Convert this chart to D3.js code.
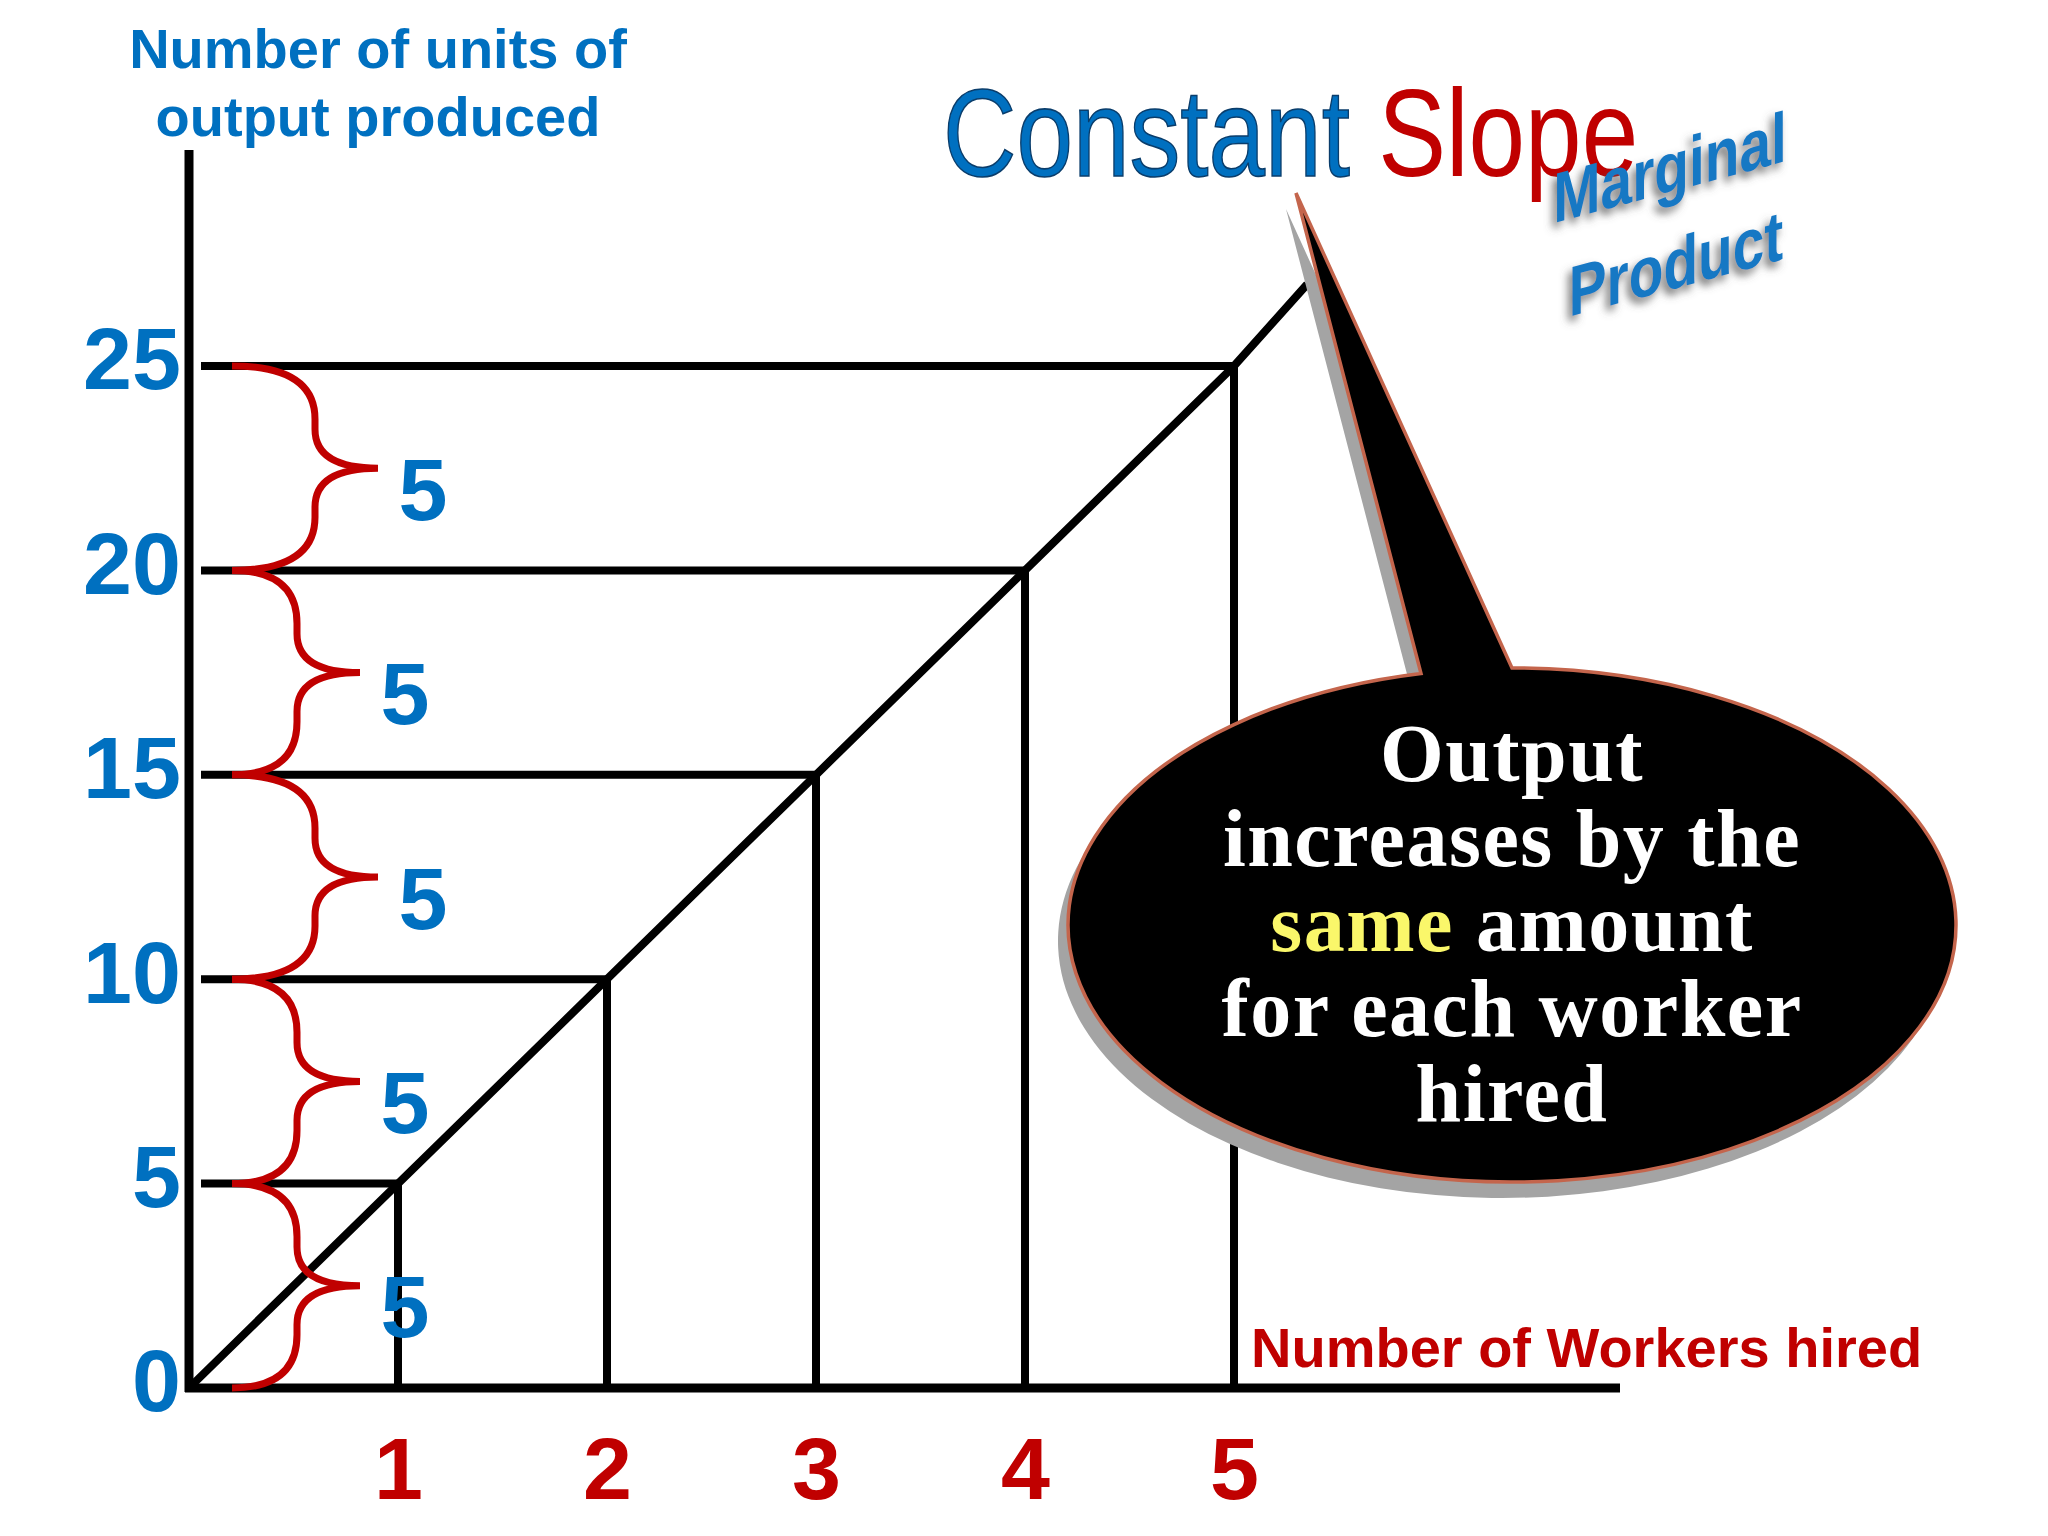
<!DOCTYPE html>
<html><head><meta charset="utf-8">
<script src="https://cdn.jsdelivr.net/npm/d3@7"></script>
<style>body{margin:0;background:#fff} svg{display:block}</style>
</head><body>
<svg id="chart" width="2048" height="1536"></svg>
<script>
// ---- data ----
const workers = [0, 1, 2, 3, 4, 5];
const output = [0, 5, 10, 15, 20, 25];
const xTickLabels = ["0", "1", "2", "3", "4", "5"];
const yTickLabels = ["0", "5", "10", "15", "20", "25"];
const increments = [5, 5, 5, 5, 5];
const lineEnd = [5.35, 27];
const titleParts = [{ text: "Constant ", color: "#0070C0", outline: "#0a3d6b" }, { text: "Slope", color: "#C00000", outline: "none" }];
const yTitleLines = ["Number of units of", "output produced"];
const xTitle = "Number of Workers hired";
const tagLines = ["Marginal", "Product"];
const bubbleLines = [
  [{ t: "Output" }],
  [{ t: "increases by the" }],
  [{ t: "same", hl: true }, { t: " amount" }],
  [{ t: "for each worker" }],
  [{ t: "hired" }]
];

// ---- setup ----
const svg = d3.select("#chart");
const BLUE = "#0070C0", RED = "#C00000";
const x = d3.scaleLinear().domain([0, 5]).range([189, 1234]);
const y = d3.scaleLinear().domain([0, 25]).range([1388, 366]);

const defs = svg.append("defs");
const f = defs.append("filter").attr("id", "tagShadow").attr("x", "-20%").attr("y", "-40%").attr("width", "140%").attr("height", "180%");
f.append("feGaussianBlur").attr("in", "SourceAlpha").attr("stdDeviation", 4).attr("result", "b");
f.append("feOffset").attr("in", "b").attr("dx", -4).attr("dy", 6).attr("result", "o");
f.append("feFlood").attr("flood-color", "#555").attr("flood-opacity", 0.8).attr("result", "c");
f.append("feComposite").attr("in", "c").attr("in2", "o").attr("operator", "in").attr("result", "s");
const fm = f.append("feMerge");
fm.append("feMergeNode").attr("in", "s");
fm.append("feMergeNode").attr("in", "SourceGraphic");

// ---- title ----
const title = svg.append("text")
  .attr("transform", "translate(943,176) scale(0.82,1)")
  .attr("font-family", "'Liberation Sans', Arial, sans-serif")
  .attr("font-size", 124);
titleParts.forEach(p => title.append("tspan").text(p.text).attr("fill", p.color)
  .attr("stroke", p.outline).attr("stroke-width", 1.6));

// ---- y axis title ----
svg.append("g").selectAll("text").data(yTitleLines).join("text")
  .attr("x", 378).attr("y", (d, i) => 68 + i * 68)
  .attr("text-anchor", "middle")
  .attr("font-family", "'Liberation Sans', Arial, sans-serif")
  .attr("font-weight", "bold").attr("font-size", 56).attr("fill", BLUE)
  .text(d => d);

// ---- x axis title ----
svg.append("text").attr("x", 1251).attr("y", 1367)
  .attr("font-family", "'Liberation Sans', Arial, sans-serif")
  .attr("font-weight", "bold").attr("font-size", 56).attr("fill", RED)
  .text(xTitle);

// ---- guides ----
const pts = workers.map((w, i) => [w, output[i]]);
const guides = svg.append("g").attr("stroke", "#000").attr("stroke-width", 8).attr("fill", "none");
guides.selectAll("line.h").data(pts.slice(1)).join("line").attr("class", "h")
  .attr("x1", x(0) + 12).attr("x2", d => x(d[0]) + 3)
  .attr("y1", d => y(d[1])).attr("y2", d => y(d[1]));
guides.selectAll("line.v").data(pts.slice(1)).join("line").attr("class", "v")
  .attr("x1", d => x(d[0])).attr("x2", d => x(d[0]))
  .attr("y1", d => y(d[1])).attr("y2", y(0));
guides.append("path")
  .attr("d", d3.line().x(d => x(d[0])).y(d => y(d[1]))([...pts, lineEnd]));

// ---- axes ----
const axes = svg.append("g").attr("stroke", "#000").attr("stroke-width", 9);
axes.append("line").attr("x1", x(0)).attr("x2", x(0)).attr("y1", 150).attr("y2", y(0) + 4);
axes.append("line").attr("x1", x(0) - 4).attr("x2", 1620).attr("y1", y(0)).attr("y2", y(0));

const yAxis = svg.append("g").attr("transform", `translate(${x(0)},0)`)
  .call(d3.axisLeft(y).tickValues(output).tickSize(0).tickPadding(8).tickFormat((d, i) => yTickLabels[i]));
yAxis.select(".domain").remove();
yAxis.selectAll("text").attr("font-family", "'Liberation Sans', Arial, sans-serif")
  .attr("font-weight", "bold").attr("font-size", 88).attr("fill", BLUE).attr("dy", "0.26em");

const xAxis = svg.append("g").attr("transform", `translate(0,${y(0)})`)
  .call(d3.axisBottom(x).tickValues(workers.slice(1)).tickSize(0).tickPadding(49).tickFormat(d => xTickLabels[d]));
xAxis.select(".domain").remove();
xAxis.selectAll("text").attr("font-family", "'Liberation Sans', Arial, sans-serif")
  .attr("font-weight", "bold").attr("font-size", 88).attr("fill", RED);

// ---- braces ----
const braces = svg.append("g");
increments.forEach((inc, i) => {
  const top = y(output[i + 1]), bot = y(output[i]);
  const h = bot - top, ym = (top + bot) / 2;
  const shift = (i > 0 && i % 2 === 0) ? 18 : 0;
  const x0 = 232, xm = 297 + shift, xt = 360 + shift;
  const yA = top + 0.26 * h, yB = ym - 0.19 * h, yC = ym + 0.19 * h, yD = bot - 0.26 * h;
  braces.append("path")
    .attr("d", `M${x0},${top} Q${xm},${top} ${xm},${yA} L${xm},${yB} Q${xm},${ym} ${xt},${ym} Q${xm},${ym} ${xm},${yC} L${xm},${yD} Q${xm},${bot} ${x0},${bot}`)
    .attr("fill", "none").attr("stroke", RED).attr("stroke-width", 7);
  braces.append("text").attr("x", xt + 45).attr("y", ym + 20).attr("dy", "0.36em")
    .attr("text-anchor", "middle")
    .attr("font-family", "'Liberation Sans', Arial, sans-serif")
    .attr("font-weight", "bold").attr("font-size", 88).attr("fill", BLUE)
    .text(inc);
});

// ---- Marginal Product tag ----
const tag = svg.append("g").attr("filter", "url(#tagShadow)");
const tagPos = [[1670, 192], [1676, 288]];
tagLines.forEach((t, i) => {
  tag.append("text")
    .attr("transform", `translate(${tagPos[i][0]},${tagPos[i][1]}) skewY(-15) scale(0.8,1)`)
    .attr("text-anchor", "middle")
    .attr("font-family", "'Liberation Sans', Arial, sans-serif")
    .attr("font-weight", "bold").attr("font-size", 71).attr("fill", "#1778C4")
    .text(t);
});

// ---- speech bubble ----
const cx = 1512, cy = 925, rx = 444, ry = 257;
const tip = [1296, 193];
const baseL = 1421, baseR = 1512;
const ey = xx => cy - ry * Math.sqrt(1 - Math.pow((xx - cx) / rx, 2));
const bubblePath = `M${baseR},${ey(baseR)} A${rx},${ry} 0 1 1 ${baseL},${ey(baseL)} L${tip[0]},${tip[1]} Z`;
svg.append("path").attr("d", bubblePath).attr("transform", "translate(-10,16)").attr("fill", "#a4a4a4");
svg.append("path").attr("d", bubblePath).attr("fill", "#000").attr("stroke", "#c4654c").attr("stroke-width", 3.5).attr("stroke-linejoin", "miter");

const bt = svg.append("g").attr("font-family", "'Liberation Serif', 'Times New Roman', serif")
  .attr("font-weight", "bold").attr("font-size", 82).attr("text-anchor", "middle")
  .attr("letter-spacing", 1.5);
bubbleLines.forEach((line, i) => {
  const t = bt.append("text").attr("x", cx).attr("y", 781 + i * 85);
  line.forEach(seg => t.append("tspan").text(seg.t).attr("fill", seg.hl ? "#FAF76A" : "#fff"));
});
</script>
</body></html>
